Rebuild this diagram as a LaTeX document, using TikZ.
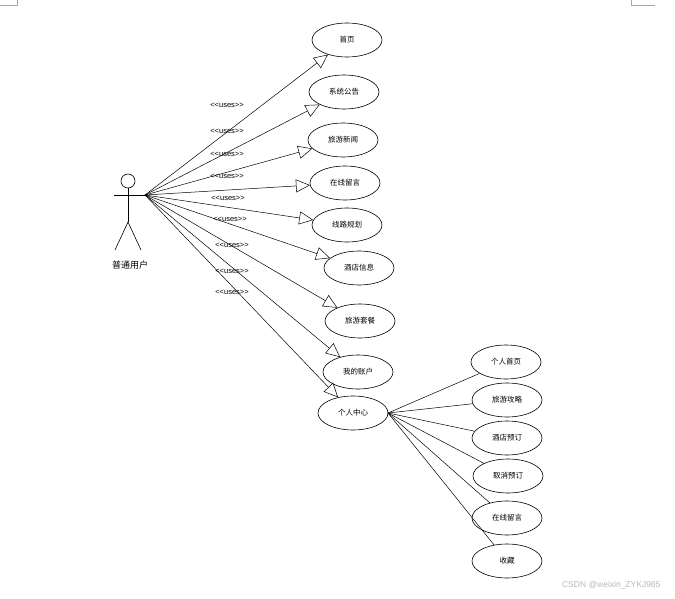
\documentclass[tikz,border=0pt]{standalone}
\usepackage{fontspec}
\setmainfont{Liberation Sans}
\newfontfamily\cjk{Noto Sans CJK SC}
\usetikzlibrary{shapes.geometric,arrows.meta}
\begin{document}
\begin{tikzpicture}[x=1pt,y=-1pt,
  uc/.style={draw,ellipse,line width=0.6pt,minimum width=70pt,minimum height=34pt,inner sep=0pt,font=\cjk\fontsize{7.5}{8}\selectfont},
  uses/.style={draw,line width=0.5pt,-{Triangle[open,length=14pt,width=13pt]}},
  sub/.style={draw,line width=0.5pt},
  lbl/.style={font=\fontsize{7.5}{8}\selectfont,inner sep=0pt}]
\useasboundingbox (0,0) rectangle (675,599);
\fill[white] (0,0) rectangle (675,599);
% page corner marks
\draw[gray!70,line width=0.8pt] (0,5) -- (17,5) -- (17,0);
\draw[gray!70,line width=0.8pt] (631,0) -- (631,5) -- (655,5);
% actor
\node[draw,circle,minimum size=14pt,inner sep=0pt,line width=0.6pt] (head) at (128,181) {};
\coordinate (hip) at (128,222);
\coordinate (larm) at (114,195);
\coordinate (hand) at (145,195);
\coordinate (lleg) at (115,250);
\coordinate (rleg) at (141,250);
\draw[line width=0.6pt] (head.south) -- (hip);
\draw[line width=0.6pt] (larm) -- (hand);
\draw[line width=0.6pt] (lleg) -- (hip) -- (rleg);
\node[font=\cjk\fontsize{9}{10}\selectfont] (actor) at (130,265) {普通用户};
% use cases
\node[uc] (u1) at (347,40) {首页};
\node[uc] (u2) at (344,92) {系统公告};
\node[uc] (u3) at (343,140) {旅游新闻};
\node[uc] (u4) at (345,183) {在线留言};
\node[uc] (u5) at (347,225) {线路规划};
\node[uc] (u6) at (359,268) {酒店信息};
\node[uc] (u7) at (360,321) {旅游套餐};
\node[uc] (u8) at (358,372) {我的账户};
\node[uc] (u9) at (353,413) {个人中心};
\node[uc] (r1) at (506,362) {个人首页};
\node[uc] (r2) at (507,400) {旅游攻略};
\node[uc] (r3) at (507,438) {酒店预订};
\node[uc] (r4) at (508,476) {取消预订};
\node[uc] (r5) at (507,518) {在线留言};
\node[uc] (r6) at (507,561) {收藏};
% uses connectors
\foreach \u in {u1,u2,u3,u4,u5,u6,u7,u8,u9}{\path[uses] (hand) -- (\u);}
% labels
\node[lbl] (l1) at (227,105) {<{}<uses>{}>};
\node[lbl] (l2) at (227,131) {<{}<uses>{}>};
\node[lbl] (l3) at (227,154) {<{}<uses>{}>};
\node[lbl] (l4) at (227,176) {<{}<uses>{}>};
\node[lbl] (l5) at (228,198) {<{}<uses>{}>};
\node[lbl] (l6) at (230,219) {<{}<uses>{}>};
\node[lbl] (l7) at (232,245) {<{}<uses>{}>};
\node[lbl] (l8) at (232,271) {<{}<uses>{}>};
\node[lbl] (l9) at (232,292) {<{}<uses>{}>};
% sub connectors
\coordinate (pc) at (388,413);
\foreach \r in {r1,r2,r3,r4,r5,r6}{\path[sub] (pc) -- (\r);}
% watermark
\node[font=\fontsize{8.5}{9}\selectfont,text=gray!55,anchor=east] (wm) at (664,585) {CSDN @weixin\_ZYKJ985};
\end{tikzpicture}
\end{document}
